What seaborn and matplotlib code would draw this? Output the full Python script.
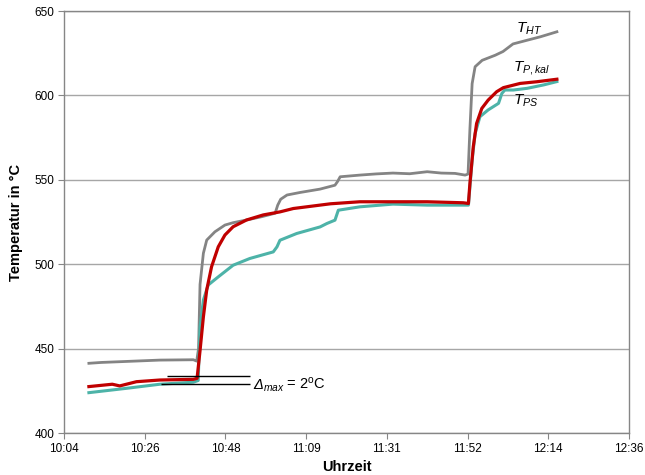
import numpy as np
import pandas as pd
import matplotlib
matplotlib.use("Agg")
import matplotlib.pyplot as plt
import seaborn as sns

# Zeit in Minuten nach 10:04
t_ht = [6.7, 10.0, 16.8, 25.8, 34.8, 35.7, 36.2, 36.6, 37.5, 38.4, 40.6, 43.3,
        45.5, 50.0, 53.3, 56.8, 57.5, 58.3, 60.0, 63.5, 68.9, 72.9, 73.6, 74.3,
        79.6, 84.0, 88.5, 93.0, 97.7, 101.5, 105.2, 107.9, 108.7, 109.2, 109.8,
        110.6, 112.5, 116.0, 118.1, 120.8, 124.6, 128.1, 132.6]
T_HT = [441.3, 441.8, 442.4, 443.2, 443.4, 442.6, 450.0, 488.0, 506.5, 514.3,
        519.2, 523.2, 524.6, 526.6, 528.2, 530.2, 535.0, 538.5, 541.0, 542.5,
        544.5, 546.8, 549.0, 551.8, 552.8, 553.5, 554.0, 553.6, 554.8, 554.0,
        553.8, 552.8, 553.4, 580.0, 607.0, 617.0, 620.8, 623.8, 626.0, 630.5,
        632.7, 634.7, 637.7]

t_kal = [6.7, 13.0, 15.0, 19.5, 25.8, 34.8, 35.8, 36.6, 37.5, 38.4, 39.7, 41.5,
         43.3, 45.5, 49.1, 53.6, 58.1, 61.7, 71.7, 79.6, 88.5, 97.7, 107.4,
         108.8, 109.2, 110.1, 111.0, 112.4, 114.1, 116.4, 118.2, 122.7, 127.2,
         132.6]
T_KAL = [427.5, 428.9, 427.9, 430.4, 431.4, 431.8, 432.4, 448.8, 468.8, 484.8,
         498.5, 510.3, 517.3, 522.2, 526.2, 529.2, 531.0, 533.0, 535.8, 537.0,
         537.0, 537.0, 536.4, 536.0, 547.8, 569.5, 583.4, 592.3, 597.2, 602.2,
         604.6, 607.1, 608.1, 609.6]

t_ps = [6.7, 16.9, 25.8, 34.8, 36.1, 36.6, 37.5, 38.8, 41.5, 45.5, 50.0, 56.3,
        57.3, 58.1, 62.6, 68.9, 70.7, 72.9, 73.8, 79.6, 88.5, 97.7, 106.6,
        108.8, 109.8, 110.6, 111.9, 114.1, 116.9, 117.8, 118.6, 120.9, 124.6,
        129.0, 132.6]
T_PS = [423.9, 426.5, 428.9, 430.1, 431.1, 462.8, 478.8, 487.7, 492.5, 499.4,
        503.4, 507.3, 510.3, 514.2, 518.2, 522.1, 524.1, 526.1, 532.0, 534.0,
        535.6, 535.0, 535.0, 535.0, 561.7, 577.4, 587.4, 591.4, 595.3, 601.2,
        603.2, 603.2, 604.2, 606.2, 608.2]

xtick_labels = ["10:04", "10:26", "10:48", "11:09", "11:31", "11:52", "12:14", "12:36"]
yticks = [400, 450, 500, 550, 600, 650]

plt.rcParams["font.family"] = ["Liberation Sans", "DejaVu Sans"]
plt.rcParams["mathtext.fontset"] = "custom"
plt.rcParams["mathtext.rm"] = "Liberation Sans"
plt.rcParams["mathtext.it"] = "Liberation Sans:italic"

fig = plt.figure(figsize=(6.45, 4.75), dpi=100)
ax = fig.add_axes([0.0992, 0.0884, 0.8760, 0.8884])

sns.lineplot(x=t_ht, y=T_HT, color="#848484", linewidth=2.0, ax=ax)
sns.lineplot(x=t_ps, y=T_PS, color="#4db3a8", linewidth=2.2, ax=ax)
sns.lineplot(x=t_kal, y=T_KAL, color="#c00000", linewidth=2.3, ax=ax)

# Delta_max Markierung
ax.hlines([433.8], 27.6, 50.0, color="black", linewidth=1)
ax.hlines([429.1], 26.0, 50.0, color="black", linewidth=1)
ax.text(50.8, 428.4, "Δ", fontsize=10.5, fontstyle="italic", va="center", ha="left")
ax.annotate(r"$_{\mathit{max}}$ = 2$^{\rm o}$C", xy=(50.8, 428.4), xytext=(10.5, 0),
            textcoords="offset pixels", fontsize=10.5, va="center", ha="left")

ax.text(121.6, 639.5, r"$T_{HT}$", fontsize=11, va="center", ha="left")
ax.text(120.8, 616.3, r"$T_{P,kal}$", fontsize=11, va="center", ha="left")
ax.text(120.8, 597.0, r"$T_{PS}$", fontsize=11, va="center", ha="left")

ax.set_xlim(0, 152)
ax.set_ylim(400, 650)
ax.set_xticks(np.linspace(0, 152, 8))
ax.set_xticklabels(xtick_labels)
ax.set_yticks(yticks)
ax.grid(axis="y", color="#a6a6a6", linewidth=1)
ax.set_axisbelow(True)
for s in ax.spines.values():
    s.set_color("#868686")
    s.set_linewidth(1)
ax.tick_params(length=4, color="#868686", labelsize=8.5, pad=3)
ax.set_xlabel("Uhrzeit", fontsize=10.5, fontweight="bold", labelpad=4)
ax.set_ylabel("Temperatur in °C", fontsize=10.5, fontweight="bold", labelpad=8)

fig.savefig("out.png", dpi=100)
